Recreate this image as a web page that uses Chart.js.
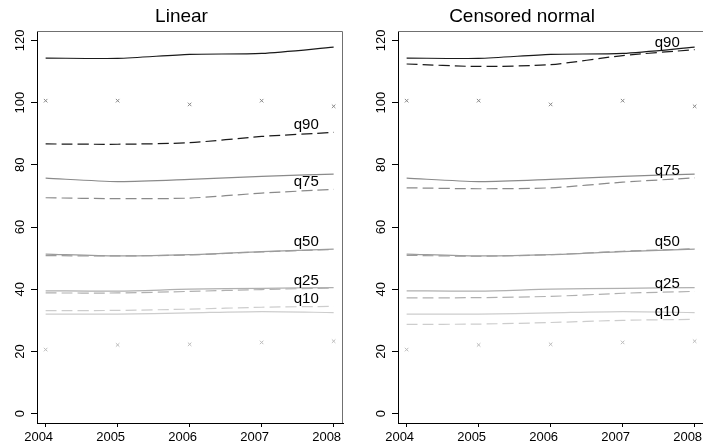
<!DOCTYPE html>
<html>
<head>
<meta charset="utf-8">
<script src="https://cdn.jsdelivr.net/npm/chart.js@4.4.1/dist/chart.umd.min.js"></script>
<style>
  html, body { margin: 0; padding: 0; background: #fff; overflow: hidden; }
  body { width: 703px; height: 447px; position: relative; }
  canvas { position: absolute; top: 0; }
  #left { left: 0; }
  #right { left: 361px; }
</style>
</head>
<body>
<canvas id="left" width="351" height="447"></canvas>
<canvas id="right" width="351" height="447"></canvas>
<script>
const years = [2004, 2005, 2006, 2007, 2008];
const yTicks = [0, 20, 40, 60, 80, 100, 120];
const quantiles = ['q90', 'q75', 'q50', 'q25', 'q10'];

// true quantiles (solid lines), same in both panels
const trueQ90 = [114.3, 114.2, 115.5, 115.8, 117.8];
const trueQ75 = [75.7, 74.6, 75.3, 76.3, 77.0];
const trueQ50 = [51.3, 50.7, 51.1, 52.1, 52.9];
const trueQ25 = [39.5, 39.4, 40.0, 40.3, 40.5];
const trueQ10 = [32.0, 32.0, 32.4, 32.8, 32.5];

// the two rows of x markers
const markHigh = [100.6, 100.6, 99.4, 100.6, 98.8];
const markLow = [20.6, 22.1, 22.3, 22.9, 23.3];

// linear model estimates (dashed)
const linQ90 = [86.7, 86.6, 87.1, 89.1, 90.4];
const linQ75 = [69.4, 69.1, 69.3, 70.9, 72.1];
const linQ50 = [50.8, 50.7, 51.0, 52.0, 52.8];
const linQ25 = [38.8, 38.8, 39.3, 39.9, 40.4];
const linQ10 = [33.1, 33.2, 33.6, 34.2, 34.5];

// censored normal estimates (dashed)
const cenQ90 = [112.4, 111.6, 112.2, 115.1, 117.0];
const cenQ75 = [72.6, 72.3, 72.6, 74.4, 75.8];
const cenQ50 = [50.9, 50.6, 51.1, 52.2, 53.0];
const cenQ25 = [37.2, 37.3, 37.7, 38.7, 39.3];
const cenQ10 = [28.7, 28.8, 29.3, 30.0, 30.3];

const trueLines = [trueQ90, trueQ75, trueQ50, trueQ25, trueQ10];
const colors = ['#1a1a1a', '#8a8a8a', '#9c9c9c', '#b0b0b0', '#cdcdcd'];
const labelYear = 2007.62;
const FONT = "'Liberation Sans', Arial, sans-serif";

const pts = arr => arr.map((v, i) => ({ x: years[i], y: v }));

function buildDatasets(est) {
  const ds = [];
  trueLines.forEach((arr, i) => {
    ds.push({ data: pts(arr), borderColor: colors[i], borderWidth: 1.2, pointRadius: 0, tension: 0.25 });
    ds.push({ data: pts(est[i]), borderColor: colors[i], borderWidth: 1.2, pointRadius: 0,
      borderDash: [11, 5], tension: 0.25 });
  });
  ds.push({ data: pts(markHigh), showLine: false, pointStyle: 'crossRot', pointRadius: 2.5,
    borderColor: '#888', borderWidth: 1 });
  ds.push({ data: pts(markLow), showLine: false, pointStyle: 'crossRot', pointRadius: 2.5,
    borderColor: '#bbb', borderWidth: 1 });
  return ds;
}

// title, frame lines, axis labels and the q-labels
const extras = {
  id: 'extras',
  afterDraw(chart, args, opts) {
    const ctx = chart.ctx;
    const a = chart.chartArea;
    const x = chart.scales.x, y = chart.scales.y;
    ctx.save();
    ctx.strokeStyle = '#707070';
    ctx.lineWidth = 1;
    ctx.beginPath();
    ctx.moveTo(a.left, a.top + 0.5);
    ctx.lineTo(a.right - 0.5, a.top + 0.5);
    ctx.lineTo(a.right - 0.5, a.bottom);
    ctx.stroke();

    ctx.fillStyle = '#000';
    ctx.textAlign = 'center';
    ctx.textBaseline = 'middle';
    ctx.font = '19px ' + FONT;
    ctx.fillText(opts.title, opts.titleX, 17);

    ctx.font = '13px ' + FONT;
    yTicks.forEach(t => {
      ctx.save();
      ctx.translate(20, y.getPixelForValue(t));
      ctx.rotate(-Math.PI / 2);
      ctx.fillText(String(t), 0, 0);
      ctx.restore();
    });
    years.forEach(v => {
      ctx.fillText(String(v), x.getPixelForValue(v) - 7, 437.5);
    });

    ctx.font = '15px ' + FONT;
    ctx.textBaseline = 'alphabetic';
    quantiles.forEach((q, i) => {
      const est = opts.est[i];
      ctx.fillText(q, x.getPixelForValue(labelYear), y.getPixelForValue(est[est.length - 1]) - 3);
    });
    ctx.restore();
  }
};

function makeChart(id, title, titleX, est) {
  return new Chart(document.getElementById(id), {
    type: 'line',
    data: { datasets: buildDatasets(est) },
    plugins: [extras],
    options: {
      responsive: false,
      animation: false,
      devicePixelRatio: 1,
      layout: { padding: { left: 0, right: 8, top: 31, bottom: 0 } },
      plugins: {
        legend: { display: false },
        tooltip: { enabled: false },
        title: { display: false },
        extras: { est: est, title: title, titleX: titleX }
      },
      scales: {
        x: {
          type: 'linear', min: 2003.88, max: 2008.13,
          afterBuildTicks: s => { s.ticks = years.map(v => ({ value: v })); },
          afterFit: s => { s.height = 24; },
          grid: { drawOnChartArea: false, tickLength: 4, color: '#000' },
          border: { color: '#000', width: 1 },
          ticks: { display: false }
        },
        y: {
          type: 'linear', min: -3, max: 123,
          afterBuildTicks: s => { s.ticks = yTicks.map(v => ({ value: v })); },
          afterFit: s => { s.width = 37; },
          grid: { drawOnChartArea: false, tickLength: 6, color: '#000' },
          border: { color: '#000', width: 1 },
          ticks: { display: false }
        }
      }
    }
  });
}

makeChart('left', 'Linear', 181.5, [linQ90, linQ75, linQ50, linQ25, linQ10]);
makeChart('right', 'Censored normal', 161, [cenQ90, cenQ75, cenQ50, cenQ25, cenQ10]);
</script>
</body>
</html>
